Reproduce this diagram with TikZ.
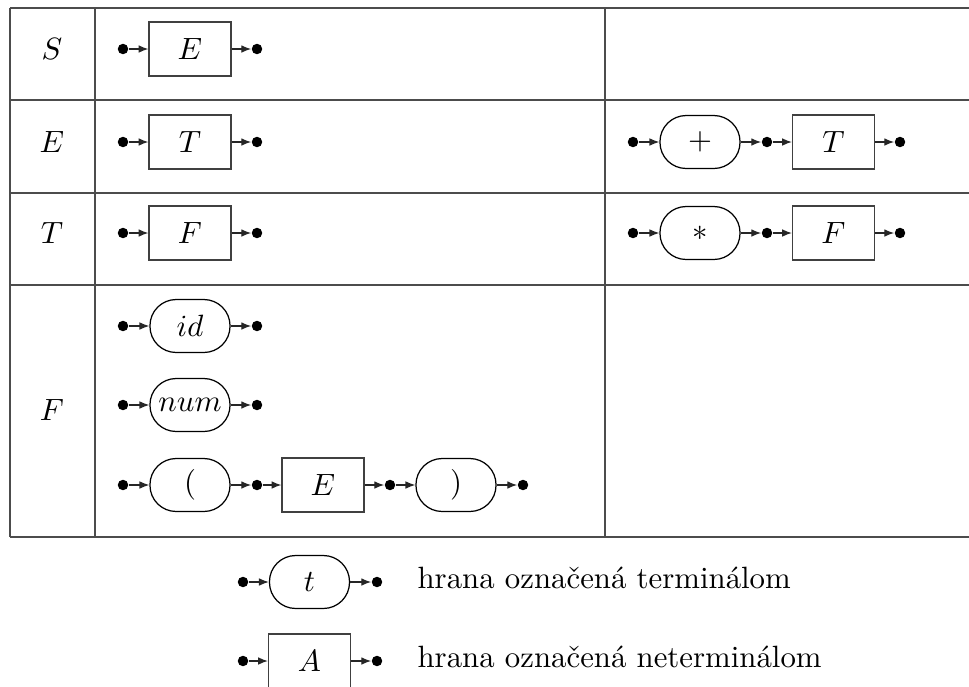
\documentclass[tikz,border=0pt]{standalone}
\usetikzlibrary{arrows.meta}
\begin{document}
\begin{tikzpicture}[x=0.3247pt,y=-0.3247pt,
  dot/.style={circle,fill=black,inner sep=0pt,minimum size=3.4pt},
  term/.style={draw,rounded corners=8.5pt,minimum width=26pt,minimum height=17.2pt,inner sep=0pt},
  nonterm/.style={draw=black!75,rectangle,minimum width=26.6pt,minimum height=17.5pt,inner sep=0pt},
  arr/.style={-{Latex[length=3.2pt,width=2.5pt]},black!85},
  grid/.style={line width=0.4pt,black!70},
  rowlab/.style={inner sep=0pt},
  legtext/.style={anchor=mid west,inner sep=0pt}]
\useasboundingbox (0,0) rectangle (969,686);
% table
\draw[grid] (10,8) -- (969,8);
\draw[grid] (10,100) -- (969,100);
\draw[grid] (10,193) -- (969,193);
\draw[grid] (10,285) -- (969,285);
\draw[grid] (10,537) -- (969,537);
\draw[grid] (10,8) -- (10,537);
\draw[grid] (95,8) -- (95,537);
\draw[grid] (605,8) -- (605,537);
% row labels
\node[rowlab] (lS) at (52,49) {$S$};
\node[rowlab] (lE) at (52,142) {$E$};
\node[rowlab] (lT) at (52,233) {$T$};
\node[rowlab] (lF) at (52,410) {$F$};
% row S
\node[dot] (s1) at (123,49) {};
\node[nonterm] (sE) at (190,49) {$E$};
\node[dot] (s2) at (257,49) {};
\draw[arr] (s1) -- (sE); \draw[arr] (sE) -- (s2);
% row E left
\node[dot] (e1) at (123,142) {};
\node[nonterm] (eT) at (190,142) {$T$};
\node[dot] (e2) at (257,142) {};
\draw[arr] (e1) -- (eT); \draw[arr] (eT) -- (e2);
% row E right
\node[dot] (e3) at (633,142) {};
\node[term] (ep) at (700,142) {$+$};
\node[dot] (e4) at (767,142) {};
\node[nonterm] (eT2) at (833.5,142) {$T$};
\node[dot] (e5) at (900,142) {};
\draw[arr] (e3) -- (ep); \draw[arr] (ep) -- (e4); \draw[arr] (e4) -- (eT2); \draw[arr] (eT2) -- (e5);
% row T left
\node[dot] (t1) at (123,233) {};
\node[nonterm] (tF) at (190,233) {$F$};
\node[dot] (t2) at (257,233) {};
\draw[arr] (t1) -- (tF); \draw[arr] (tF) -- (t2);
% row T right
\node[dot] (t3) at (633,233) {};
\node[term] (ts) at (700,233) {$*$};
\node[dot] (t4) at (767,233) {};
\node[nonterm] (tF2) at (833.5,233) {$F$};
\node[dot] (t5) at (900,233) {};
\draw[arr] (t3) -- (ts); \draw[arr] (ts) -- (t4); \draw[arr] (t4) -- (tF2); \draw[arr] (tF2) -- (t5);
% row F: id
\node[dot] (f1) at (123,326) {};
\node[term] (fid) at (190,326) {$id$};
\node[dot] (f2) at (257,326) {};
\draw[arr] (f1) -- (fid); \draw[arr] (fid) -- (f2);
% row F: num
\node[dot] (f3) at (123,405) {};
\node[term] (fnum) at (190,405) {$num$};
\node[dot] (f4) at (257,405) {};
\draw[arr] (f3) -- (fnum); \draw[arr] (fnum) -- (f4);
% row F: ( E )
\node[dot] (f5) at (123,485) {};
\node[term] (flp) at (190,485) {$($};
\node[dot] (f6) at (257,485) {};
\node[nonterm] (fE) at (323,485) {$E$};
\node[dot] (f7) at (390,485) {};
\node[term] (frp) at (456,485) {$)$};
\node[dot] (f8) at (523,485) {};
\draw[arr] (f5) -- (flp); \draw[arr] (flp) -- (f6); \draw[arr] (f6) -- (fE);
\draw[arr] (fE) -- (f7); \draw[arr] (f7) -- (frp); \draw[arr] (frp) -- (f8);
% legend
\node[dot] (g1) at (243,582) {};
\node[term] (gt) at (309.5,582) {$t$};
\node[dot] (g2) at (377,582) {};
\draw[arr] (g1) -- (gt); \draw[arr] (gt) -- (g2);
\node[legtext] (gtx) at (417,582) {hrana označená terminálom};
\node[dot] (g3) at (243,661) {};
\node[nonterm] (gA) at (309.5,661) {$A$};
\node[dot] (g4) at (377,661) {};
\draw[arr] (g3) -- (gA); \draw[arr] (gA) -- (g4);
\node[legtext] (gax) at (417,661) {hrana označená neterminálom};
\end{tikzpicture}
\end{document}
